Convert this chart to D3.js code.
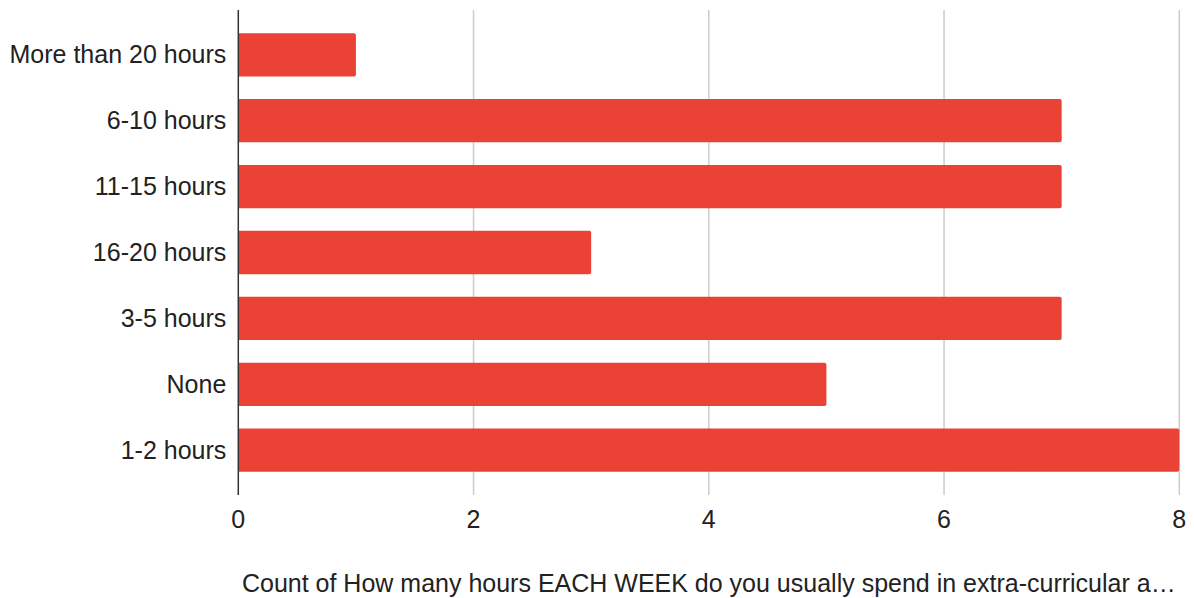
<!DOCTYPE html>
<html><head><meta charset="utf-8">
<script src="https://cdn.jsdelivr.net/npm/d3@7"></script>
<style>body{margin:0;background:#fff}svg{display:block}</style>
</head><body>
<svg id="c" width="1194" height="598"></svg>
<script>
const categories = ["More than 20 hours","6-10 hours","11-15 hours","16-20 hours","3-5 hours","None","1-2 hours"];
const counts = [1,7,7,3,7,5,8];
const xTicks = [0,2,4,6,8];
const axisTitle = "Count of How many hours EACH WEEK do you usually spend in extra-curricular a…";

(function(){
const svg = d3.select("#c");
const L = 238.3, R = 1179.3, T = 10, B = 495;
const font = "'Liberation Sans', Arial, sans-serif";
const fs = 25;

const x = d3.scaleLinear().domain([0,8]).range([L,R]);
const y = d3.scaleBand().domain(categories).range([T,B]).paddingInner(0.343).paddingOuter(0.352);

svg.append("g").selectAll("line").data(xTicks.filter(d=>d>0)).join("line")
  .attr("x1",d=>x(d)).attr("x2",d=>x(d)).attr("y1",T).attr("y2",B)
  .attr("stroke","#cccccc").attr("stroke-width",1.5);

svg.append("g").selectAll("path").data(categories).join("path")
  .attr("fill","#ea4335")
  .attr("d",(c,i)=>{
    const x0=x(0), x1=x(counts[i]), y0=y(c), h=y.bandwidth(), r=2;
    return `M${x0},${y0}H${x1-r}Q${x1},${y0} ${x1},${y0+r}V${y0+h-r}Q${x1},${y0+h} ${x1-r},${y0+h}H${x0}Z`;
  });

svg.append("line").attr("x1",L).attr("x2",L).attr("y1",T).attr("y2",B)
  .attr("stroke","#333333").attr("stroke-width",1.5);

svg.append("g").selectAll("text").data(categories).join("text")
  .attr("x",L-12).attr("y",c=>y(c)+y.bandwidth()/2+8.6)
  .attr("text-anchor","end").attr("font-family",font).attr("font-size",fs).attr("fill","#222")
  .text(c=>c);

svg.append("g").selectAll("text").data(xTicks).join("text")
  .attr("x",d=>x(d)).attr("y",528).attr("text-anchor","middle")
  .attr("font-family",font).attr("font-size",fs).attr("fill","#222").text(d=>d);

svg.append("text").attr("x",(L+R)/2).attr("y",591.5).attr("text-anchor","middle")
  .attr("font-family",font).attr("font-size",fs).attr("fill","#222").text(axisTitle);
})();
</script>
</body></html>
